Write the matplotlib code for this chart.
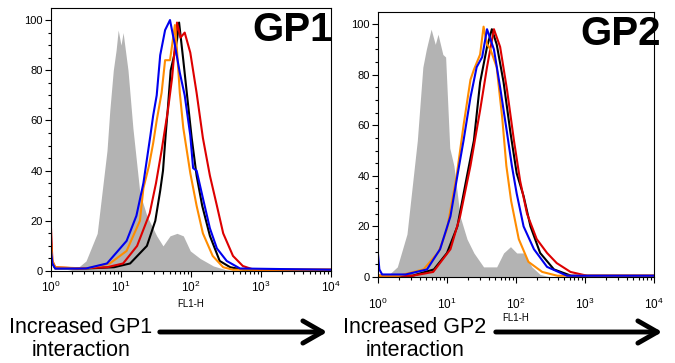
import numpy as np
import matplotlib
matplotlib.use('Agg')
import matplotlib.pyplot as plt
from matplotlib.ticker import MultipleLocator, LogLocator

plt.rcParams['font.family'] = ['Liberation Sans', 'DejaVu Sans']

# log10(FL1-H) positions and % of max
# --- GP1 panel ---
gp1_gray_log = [0.2, 0.37, 0.5, 0.66, 0.8, 0.84, 0.89, 0.93, 0.96, 1.0, 1.03, 1.1, 1.17, 1.27, 1.37,
                1.51, 1.6, 1.7, 1.8, 1.89, 1.99, 2.13, 2.32, 2.5, 2.7]
gp1_gray_pct = [0, 1, 4, 15, 48, 64, 80, 88, 96, 90, 95, 80, 57, 31, 22,
                14, 10, 14, 15, 14, 8, 5, 2, 0.5, 0]

gp1_black_log = [0, 0.02, 0.06, 0.5, 0.9, 1.13, 1.37, 1.49, 1.56, 1.6, 1.64, 1.67, 1.71, 1.76, 1.8, 1.83,
                 1.89, 1.94, 2.01, 2.08, 2.16, 2.27, 2.41, 2.56, 2.75, 4.0]
gp1_black_pct = [8, 3, 1, 1, 1.5, 3, 10, 20, 32, 40, 55, 65, 80, 86, 92, 99,
                 84, 71, 53, 38, 26, 14, 4, 1.5, 0.5, 0.5]

gp1_red_log = [0, 0.02, 0.06, 0.4, 0.8, 1.03, 1.23, 1.41, 1.5, 1.58, 1.67, 1.73, 1.8, 1.85, 1.91,
               1.99, 2.08, 2.17, 2.27, 2.37, 2.46, 2.6, 2.74, 2.9, 4.0]
gp1_red_pct = [17, 4, 1.5, 1, 1.5, 3, 10, 23, 35, 48, 64, 77, 99, 93, 95,
               87, 71, 53, 38, 26, 15, 6, 2, 0.5, 0.5]

gp1_orange_log = [0, 0.02, 0.06, 0.5, 0.84, 1.08, 1.27, 1.32, 1.4, 1.46, 1.51, 1.58, 1.63, 1.7, 1.77,
                  1.8, 1.84, 1.89, 1.99, 2.08, 2.17, 2.31, 2.46, 2.6, 4.0]
gp1_orange_pct = [11, 4, 1.5, 1, 3, 8, 20, 33, 42, 51, 60, 71, 84, 84, 98,
                  88, 71, 57, 39, 26, 15, 6, 1.5, 0.5, 0.5]

gp1_blue_log = [0, 0.02, 0.06, 0.5, 0.8, 1.08, 1.22, 1.32, 1.42, 1.46, 1.51, 1.56, 1.63, 1.7, 1.77,
                1.84, 1.91, 1.99, 2.03, 2.08, 2.17, 2.27, 2.37, 2.51, 2.7, 4.0]
gp1_blue_pct = [8, 3, 1, 1, 3, 12, 22, 35, 54, 62, 70, 86, 96, 100, 90,
                79, 70, 54, 41, 40, 29, 17, 9, 4, 1, 0.5]

# --- GP2 panel ---
gp2_gray_log = [0.1, 0.18, 0.28, 0.42, 0.57, 0.65, 0.7, 0.77, 0.83, 0.87, 0.94, 0.98, 1.04, 1.1, 1.19,
                1.29, 1.39, 1.53, 1.72, 1.82, 1.92, 2.01, 2.11, 2.23, 2.35, 2.5]
gp2_gray_pct = [0, 1.5, 4, 17, 54, 83, 90, 98, 92, 96, 88, 87, 51, 44, 24,
                15, 9.5, 4, 4, 9.5, 12, 9.5, 9.5, 4, 1, 0]

gp2_black_log = [0, 0.5, 0.81, 1.0, 1.15, 1.29, 1.39, 1.48, 1.58, 1.65, 1.72, 1.82, 1.92, 2.01, 2.11,
                 2.21, 2.35, 2.55, 2.8, 4.0]
gp2_black_pct = [0.5, 0.5, 3, 9.5, 20, 40, 54, 77, 91, 98, 92, 77, 57, 41, 32,
                 20, 9.5, 3, 0.5, 0.5]

gp2_red_log = [0, 0.5, 0.8, 1.05, 1.19, 1.34, 1.48, 1.58, 1.68, 1.77, 1.87, 1.97, 2.06, 2.16, 2.3,
               2.45, 2.59, 2.79, 3.03, 4.0]
gp2_red_pct = [0.5, 0.5, 2, 11, 24, 44, 66, 83, 98, 91, 74, 54, 38, 25, 15,
               9.5, 5.5, 2, 0.5, 0.5]

gp2_orange_log = [0, 0.3, 0.66, 0.88, 1.0, 1.14, 1.24, 1.34, 1.39, 1.48, 1.53, 1.58, 1.63, 1.72, 1.8,
                  1.86, 1.93, 2.04, 2.18, 2.38, 2.6, 4.0]
gp2_orange_pct = [0.5, 0.5, 3, 10, 19, 40, 60, 78, 82, 88, 99, 92, 90, 83, 63,
                  44, 30, 15, 6, 2, 0.5, 0.5]

gp2_blue_log = [0, 0.02, 0.06, 0.4, 0.71, 0.9, 1.05, 1.15, 1.24, 1.34, 1.43, 1.51, 1.58, 1.68, 1.77,
                1.87, 1.94, 2.01, 2.11, 2.26, 2.45, 2.74, 4.0]
gp2_blue_pct = [9, 3, 1, 1, 3, 11, 24, 40, 54, 71, 83, 87, 98, 90, 75,
                57, 44, 33, 20, 11, 4, 0.5, 0.5]

panels = [
    dict(name='GP1', pos=[51/675, 1-271/363, 280/675, 263/363],
         gray=(gp1_gray_log, gp1_gray_pct),
         lines=[(gp1_black_log, gp1_black_pct, 'black'),
                (gp1_red_log, gp1_red_pct, '#dd0000'),
                (gp1_orange_log, gp1_orange_pct, '#ff8c00'),
                (gp1_blue_log, gp1_blue_pct, '#0000ee')],
         tickpad=2.5, labelpad=3, title_xy=(333, 11)),
    dict(name='GP2', pos=[378/675, 1-277/363, 276/675, 265/363],
         gray=(gp2_gray_log, gp2_gray_pct),
         lines=[(gp2_black_log, gp2_black_pct, 'black'),
                (gp2_red_log, gp2_red_pct, '#dd0000'),
                (gp2_orange_log, gp2_orange_pct, '#ff8c00'),
                (gp2_blue_log, gp2_blue_pct, '#0000ee')],
         tickpad=10, labelpad=1, title_xy=(661, 15)),
]

fig = plt.figure(figsize=(6.75, 3.63), dpi=100)

for p in panels:
    ax = fig.add_axes(p['pos'])
    gx, gy = p['gray']
    ax.fill_between(10**np.array(gx), gy, 0, color='#b3b3b3', lw=0)
    for lx, ly, c in p['lines']:
        ax.plot(10**np.array(lx), ly, color=c, lw=1.5)
    ax.set_xscale('log')
    ax.set_xlim(1, 1e4)
    ax.set_ylim(0, 104.8)
    ax.yaxis.set_major_locator(MultipleLocator(20))
    ax.yaxis.set_minor_locator(MultipleLocator(5))
    ax.xaxis.set_minor_locator(LogLocator(base=10, subs=np.arange(2, 10)))
    ax.tick_params(which='both', direction='out', width=0.8)
    ax.tick_params(which='major', length=4)
    ax.tick_params(which='minor', length=2.5)
    ax.tick_params(axis='y', labelsize=8, pad=2)
    ax.tick_params(axis='x', labelsize=8.5, pad=p['tickpad'])
    ax.set_xlabel('FL1-H', fontsize=7, labelpad=p['labelpad'])
    for s in ax.spines.values():
        s.set_linewidth(0.8)
    tx, ty = p['title_xy']
    fig.text(tx/675, 1-ty/363, p['name'], ha='right', va='top',
             fontsize=29, fontweight='bold')

# arrows and captions under the panels
captions = [('Increased GP1\ninteraction', 81, 157, 330),
            ('Increased GP2\ninteraction', 415, 493, 665)]
for txt, cx, x0, x1 in captions:
    fig.text(cx/675, 1-317/363, txt, ha='center', va='top', fontsize=15.5,
             linespacing=1.12)
    fig.add_artist(matplotlib.patches.FancyArrowPatch(
        (x0/675, 1-332/363), (x1/675, 1-332/363), transform=fig.transFigure,
        arrowstyle='->,head_length=0.7,head_width=0.4', mutation_scale=20,
        lw=3.5, color='black'))

fig.savefig('out.png', dpi=100)
